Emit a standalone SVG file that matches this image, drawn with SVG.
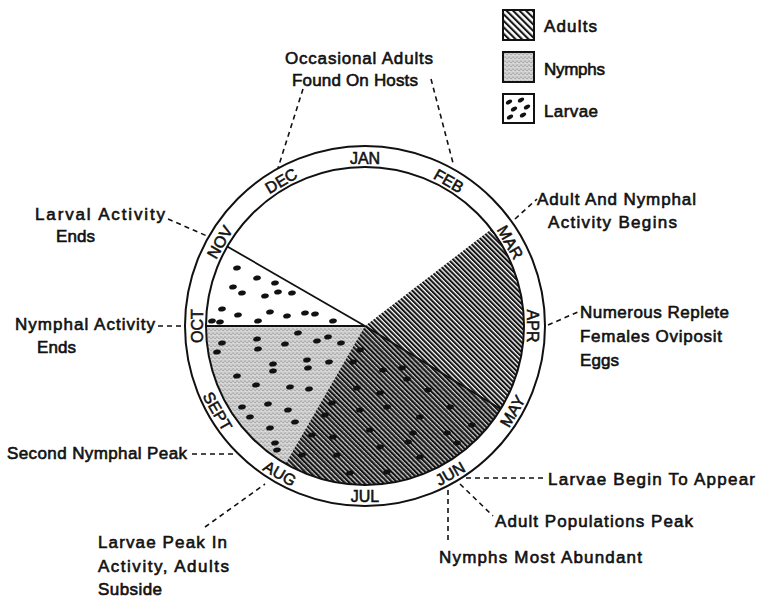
<svg xmlns="http://www.w3.org/2000/svg" xmlns:xlink="http://www.w3.org/1999/xlink" width="758" height="599" viewBox="0 0 758 599">
<style>
  .lbl { font-family: "Liberation Sans", Arial, sans-serif; font-size: 17px; fill: #111; stroke: #111; stroke-width: 0.6; }
  .mon { font-family: "Liberation Sans", Arial, sans-serif; font-size: 16px; fill: #111; stroke: #111; stroke-width: 0.55; text-anchor: middle; }
  .ring { fill: none; stroke: #111; stroke-width: 2; }
  .edge { stroke: #111; stroke-width: 1.8; fill: none; }
  .dash { stroke: #111; stroke-width: 1.6; stroke-dasharray: 5 4; fill: none; }
  .box { stroke: #111; stroke-width: 2; }
  .dot { fill: #111; }
</style>
<defs>
  <pattern id="hatch" patternUnits="userSpaceOnUse" width="3.4" height="3.4" patternTransform="rotate(-45)">
    <rect x="0" y="0" width="2.1" height="3.4" fill="#141414"/>
  </pattern>
  <pattern id="hatchL" patternUnits="userSpaceOnUse" width="4.6" height="4.6" patternTransform="rotate(-45)">
    <rect x="0" y="0" width="2.1" height="4.6" fill="#161616"/>
  </pattern>
  <pattern id="stip" patternUnits="userSpaceOnUse" width="4" height="4">
    <rect x="0" y="0" width="4" height="4" fill="#d2d2d2"/>
    <circle cx="1" cy="1" r="0.55" fill="#5a5a5a"/>
    <circle cx="3" cy="2.3" r="0.55" fill="#6a6a6a"/>
    <circle cx="1.8" cy="3.4" r="0.45" fill="#fff"/>
  </pattern>
  <ellipse id="dot" class="dot" cx="0" cy="0" rx="3.9" ry="2.5" transform="rotate(-10)"/>
  <ellipse id="ldot" class="dot" cx="0" cy="0" rx="3.4" ry="2" transform="rotate(-30)"/>
</defs>
<rect x="0" y="0" width="758" height="599" fill="#fff"/>

<g id="legend">
  <g id="legend-adults">
    <rect class="box" x="503" y="10" width="31" height="30" fill="url(#hatchL)"/>
    <text class="lbl" x="544" y="32" textLength="53">Adults</text>
  </g>
  <g id="legend-nymphs">
    <rect class="box" x="503" y="52" width="31" height="30" fill="url(#stip)"/>
    <text class="lbl" x="544" y="75" textLength="61">Nymphs</text>
  </g>
  <g id="legend-larvae">
    <rect class="box" x="503" y="94" width="31" height="29" fill="#fff"/>
    <use xlink:href="#ldot" x="509" y="102"/>
    <use xlink:href="#ldot" x="521" y="100"/>
    <use xlink:href="#ldot" x="514" y="109"/>
    <use xlink:href="#ldot" x="527" y="107"/>
    <use xlink:href="#ldot" x="510" y="117"/>
    <use xlink:href="#ldot" x="523" y="115"/>
    <text class="lbl" x="544" y="117" textLength="54">Larvae</text>
  </g>
</g>

<g id="pie">
  <g id="sector-larvae">
    <path d="M365,326 L206,326 A159,159 0 0 1 227.3,246.5 Z" fill="#fff"/>
    <g>
      <use xlink:href="#dot" x="237" y="268"/><use xlink:href="#dot" x="257" y="278"/>
      <use xlink:href="#dot" x="275" y="283"/><use xlink:href="#dot" x="233" y="287"/>
      <use xlink:href="#dot" x="242" y="293"/><use xlink:href="#dot" x="265" y="296"/>
      <use xlink:href="#dot" x="278" y="292"/><use xlink:href="#dot" x="292" y="293"/>
      <use xlink:href="#dot" x="222" y="309"/><use xlink:href="#dot" x="238" y="315"/>
      <use xlink:href="#dot" x="270" y="312"/><use xlink:href="#dot" x="287" y="316"/>
      <use xlink:href="#dot" x="305" y="313"/><use xlink:href="#dot" x="315" y="314"/>
      <use xlink:href="#dot" x="212" y="321"/><use xlink:href="#dot" x="220" y="322"/>
      <use xlink:href="#dot" x="258" y="321"/><use xlink:href="#dot" x="333" y="321"/>
    </g>
  </g>
  <g id="sector-nymphs">
    <path d="M365,326 L285.5,463.7 A159,159 0 0 1 206,326 Z" fill="url(#stip)"/>
    <g>
      <use xlink:href="#dot" x="257" y="339"/><use xlink:href="#dot" x="298" y="333"/>
      <use xlink:href="#dot" x="317" y="341"/><use xlink:href="#dot" x="328" y="337"/>
      <use xlink:href="#dot" x="341" y="343"/><use xlink:href="#dot" x="222" y="343"/>
      <use xlink:href="#dot" x="217" y="352"/><use xlink:href="#dot" x="258" y="349"/>
      <use xlink:href="#dot" x="285" y="344"/><use xlink:href="#dot" x="329" y="362"/>
      <use xlink:href="#dot" x="307" y="360"/><use xlink:href="#dot" x="273" y="364"/>
      <use xlink:href="#dot" x="308" y="368"/><use xlink:href="#dot" x="273" y="371"/>
      <use xlink:href="#dot" x="237" y="376"/><use xlink:href="#dot" x="256" y="385"/>
      <use xlink:href="#dot" x="290" y="387"/><use xlink:href="#dot" x="309" y="389"/>
      <use xlink:href="#dot" x="242" y="407"/><use xlink:href="#dot" x="268" y="404"/>
      <use xlink:href="#dot" x="288" y="410"/><use xlink:href="#dot" x="250" y="417"/>
      <use xlink:href="#dot" x="295" y="422"/><use xlink:href="#dot" x="270" y="428"/>
      <use xlink:href="#dot" x="275" y="443"/><use xlink:href="#dot" x="277" y="450"/>
    </g>
  </g>
  <g id="sector-adults">
    <path d="M365,326 L491.1,229.2 A159,159 0 0 1 500.6,409.1 Z" fill="url(#hatch)"/>
  </g>
  <g id="sector-all">
    <path d="M365,326 L500.6,409.1 A159,159 0 0 1 285.5,463.7 Z" fill="url(#stip)"/>
    <path d="M365,326 L500.6,409.1 A159,159 0 0 1 285.5,463.7 Z" fill="url(#hatch)"/>
    <g>
      <use xlink:href="#dot" x="360" y="350"/><use xlink:href="#dot" x="353" y="362"/>
      <use xlink:href="#dot" x="383" y="370"/><use xlink:href="#dot" x="402" y="368"/>
      <use xlink:href="#dot" x="407" y="379"/><use xlink:href="#dot" x="357" y="388"/>
      <use xlink:href="#dot" x="380" y="393"/><use xlink:href="#dot" x="428" y="390"/>
      <use xlink:href="#dot" x="332" y="403"/><use xlink:href="#dot" x="387" y="407"/>
      <use xlink:href="#dot" x="450" y="407"/><use xlink:href="#dot" x="325" y="415"/>
      <use xlink:href="#dot" x="360" y="410"/><use xlink:href="#dot" x="420" y="417"/>
      <use xlink:href="#dot" x="472" y="425"/><use xlink:href="#dot" x="312" y="435"/>
      <use xlink:href="#dot" x="333" y="437"/><use xlink:href="#dot" x="370" y="430"/>
      <use xlink:href="#dot" x="413" y="433"/><use xlink:href="#dot" x="447" y="433"/>
      <use xlink:href="#dot" x="302" y="455"/><use xlink:href="#dot" x="337" y="455"/>
      <use xlink:href="#dot" x="380" y="447"/><use xlink:href="#dot" x="420" y="457"/>
      <use xlink:href="#dot" x="408" y="442"/><use xlink:href="#dot" x="457" y="443"/>
      <use xlink:href="#dot" x="350" y="473"/><use xlink:href="#dot" x="387" y="472"/>
    </g>
  </g>
  <g id="sector-edges">
    <line class="edge" x1="365" y1="326" x2="227.3" y2="246.5"/>
    <line class="edge" x1="365" y1="326" x2="206" y2="326"/>
    <line class="edge" x1="365" y1="326" x2="500.6" y2="409.1"/>
  </g>
</g>

<g id="ring">
  <circle class="ring" cx="365" cy="326" r="180"/>
  <circle class="ring" cx="365" cy="326" r="159"/>
  <g transform="translate(365 326)">
    <text class="mon" transform="rotate(0)" x="0" y="-162">JAN</text>
    <text class="mon" transform="rotate(30)" x="0" y="-162">FEB</text>
    <text class="mon" transform="rotate(60)" x="0" y="-162">MAR</text>
    <text class="mon" transform="rotate(90)" x="0" y="-162">APR</text>
    <text class="mon" transform="rotate(-60)" x="0" y="176">MAY</text>
    <text class="mon" transform="rotate(-30)" x="0" y="176">JUN</text>
    <text class="mon" transform="rotate(0)" x="0" y="176">JUL</text>
    <text class="mon" transform="rotate(30)" x="0" y="176">AUG</text>
    <text class="mon" transform="rotate(60)" x="0" y="176">SEPT</text>
    <text class="mon" transform="rotate(-90)" x="0" y="-162">OCT</text>
    <text class="mon" transform="rotate(-60)" x="0" y="-162">NOV</text>
    <text class="mon" transform="rotate(-30)" x="0" y="-162">DEC</text>
  </g>
</g>

<g id="connectors">
  <line class="dash" x1="303" y1="89" x2="278" y2="168"/>
  <line class="dash" x1="431" y1="79" x2="453" y2="163"/>
  <line class="dash" x1="168" y1="219" x2="207" y2="236"/>
  <line class="dash" x1="158" y1="326" x2="185" y2="326"/>
  <line class="dash" x1="515" y1="219" x2="537" y2="199"/>
  <line class="dash" x1="548" y1="325" x2="578" y2="312"/>
  <line class="dash" x1="192" y1="454" x2="237" y2="454"/>
  <line class="dash" x1="205" y1="527" x2="265" y2="484"/>
  <line class="dash" x1="466" y1="478" x2="543" y2="478"/>
  <line class="dash" x1="460" y1="484" x2="493" y2="516"/>
  <line class="dash" x1="448" y1="490" x2="448" y2="541"/>
</g>

<g id="annotations">
  <g id="note-occasional">
    <text class="lbl" x="285" y="64" textLength="148">Occasional Adults</text>
    <text class="lbl" x="292" y="86" textLength="126">Found On Hosts</text>
  </g>
  <g id="note-larval-ends">
    <text class="lbl" x="35" y="220" textLength="130">Larval Activity</text>
    <text class="lbl" x="56" y="242" textLength="39">Ends</text>
  </g>
  <g id="note-nymphal-ends">
    <text class="lbl" x="15" y="330" textLength="140">Nymphal Activity</text>
    <text class="lbl" x="37" y="353" textLength="39">Ends</text>
  </g>
  <g id="note-begins">
    <text class="lbl" x="537" y="205" textLength="159">Adult And Nymphal</text>
    <text class="lbl" x="548" y="228" textLength="129">Activity Begins</text>
  </g>
  <g id="note-replete">
    <text class="lbl" x="580" y="318" textLength="149">Numerous Replete</text>
    <text class="lbl" x="580" y="342" textLength="142">Females Oviposit</text>
    <text class="lbl" x="580" y="366" textLength="39">Eggs</text>
  </g>
  <g id="note-second-peak">
    <text class="lbl" x="7" y="459" textLength="180">Second Nymphal Peak</text>
  </g>
  <g id="note-larvae-peak">
    <text class="lbl" x="98" y="548" textLength="129">Larvae Peak In</text>
    <text class="lbl" x="98" y="572" textLength="131">Activity, Adults</text>
    <text class="lbl" x="98" y="595" textLength="64">Subside</text>
  </g>
  <g id="note-larvae-appear">
    <text class="lbl" x="548" y="485" textLength="207">Larvae Begin To Appear</text>
  </g>
  <g id="note-adult-peak">
    <text class="lbl" x="495" y="527" textLength="198">Adult Populations Peak</text>
  </g>
  <g id="note-nymphs-abundant">
    <text class="lbl" x="439" y="563" textLength="203">Nymphs Most Abundant</text>
  </g>
</g>
</svg>
